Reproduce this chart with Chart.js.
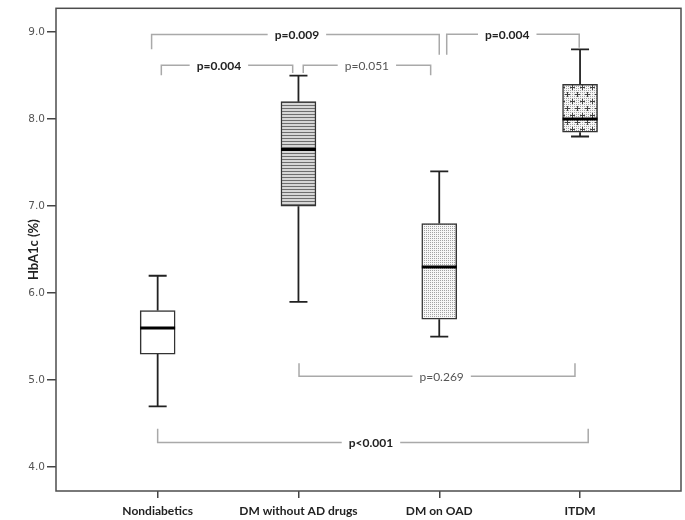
<!DOCTYPE html>
<html><head><meta charset="utf-8">
<script src="https://cdn.jsdelivr.net/npm/chart.js@4"></script>
<style>html,body{margin:0;padding:0;background:#fff}canvas{display:block}</style>
</head><body>
<canvas id="c" width="685" height="520"></canvas>
<script>
// ---- data ----
const categories = ["Nondiabetics", "DM without AD drugs", "DM on OAD", "ITDM"];
const whiskerLow  = [4.7, 5.9, 5.5, 7.8];
const q1          = [5.3, 7.0, 5.7, 7.85];
const median      = [5.6, 7.65, 6.3, 8.0];
const q3          = [5.8, 8.2, 6.8, 8.4];
const whiskerHigh = [6.2, 8.5, 7.4, 8.8];
const yTicks = [4, 5, 6, 7, 8, 9];

// p-value labels for the comparison brackets
const pLabels = ["p=0.009", "p=0.004", "p=0.051", "p=0.004", "p=0.269", "p<0.001"];
const pBold   = [true, true, false, true, false, true];

// ---- annotation geometry (category units / HbA1c units) ----
const bracketGeom = [
  {x1:-0.043, x2:2.0,   y:8.972, y1:8.803, y2:8.739, tx:0.989},
  {x1:0.026,  x2:0.959, y:8.619, y1:8.503, y2:8.530, tx:0.435},
  {x1:1.034,  x2:1.939, y:8.619, y1:8.530, y2:8.503, tx:1.486},
  {x1:2.053,  x2:2.994, y:8.974, y1:8.739, y2:8.820, tx:2.483},
  {x1:1.004,  x2:2.964, y:5.045, y1:5.195, y2:5.195, tx:2.017},
  {x1:0.0,    x2:3.058, y:4.284, y1:4.443, y2:4.443, tx:1.515}
];

// ---- fill patterns ----
function makePattern(w, h, draw) {
  const cv = document.createElement('canvas');
  cv.width = w; cv.height = h;
  const g = cv.getContext('2d');
  draw(g);
  return g.createPattern(cv, 'repeat');
}
function dotBg(g, w, h) {
  g.fillStyle = '#f6f6f6'; g.fillRect(0, 0, w, h);
  g.fillStyle = '#a2a2a2';
  for (let yy = 0; yy < h; yy += 2) for (let xx = 0; xx < w; xx += 2) g.fillRect(xx, yy, 1, 1);
}
const stripes = makePattern(4, 3, g => {
  g.fillStyle = '#d6d6d6'; g.fillRect(0, 0, 4, 3);
  g.fillStyle = '#6e6e6e'; g.fillRect(0, 0, 4, 1);
});
const dots = makePattern(2, 2, g => dotBg(g, 2, 2));
const pluses = makePattern(10, 14, g => {
  dotBg(g, 10, 14);
  g.fillStyle = '#444';
  g.fillRect(0, 3, 5, 1); g.fillRect(2, 1, 1, 5);
  g.fillRect(5, 10, 5, 1); g.fillRect(7, 8, 1, 5);
});
const boxFills = ['#ffffff', stripes, dots, pluses];

// ---- datasets built from the arrays ----
const CAP_HALF = 0.064, BOX_HALF = 0.124;
const whiskerData = [], capData = [], medianData = [];
categories.forEach((c, i) => {
  whiskerData.push({x:i, y:q3[i]}, {x:i, y:whiskerHigh[i]}, {x:i, y:null},
                   {x:i, y:q1[i]}, {x:i, y:whiskerLow[i]}, {x:i, y:null});
  capData.push({x:i - CAP_HALF, y:whiskerHigh[i]}, {x:i + CAP_HALF, y:whiskerHigh[i]}, {x:i, y:null},
               {x:i - CAP_HALF, y:whiskerLow[i]}, {x:i + CAP_HALF, y:whiskerLow[i]}, {x:i, y:null});
  medianData.push({x:i - BOX_HALF, y:median[i]}, {x:i + BOX_HALF, y:median[i]}, {x:i, y:null});
});

const lineBase = {type:'line', pointRadius:0, fill:false, tension:0, spanGaps:false, borderCapStyle:'butt'};

const framePlugin = {
  id: 'frame',
  afterDraw(chart) {
    const {ctx, chartArea:a} = chart;
    ctx.save();
    ctx.strokeStyle = '#4d4d4d'; ctx.lineWidth = 1.5;
    ctx.strokeRect(a.left, a.top, a.right - a.left, a.bottom - a.top);
    ctx.restore();
  }
};
const bracketPlugin = {
  id: 'brackets',
  afterDatasetsDraw(chart) {
    const {ctx, scales:{x, y}} = chart;
    ctx.save();
    bracketGeom.forEach((b, k) => {
      const X1 = x.getPixelForValue(b.x1), X2 = x.getPixelForValue(b.x2);
      const Y = y.getPixelForValue(b.y), Y1 = y.getPixelForValue(b.y1), Y2 = y.getPixelForValue(b.y2);
      const TX = x.getPixelForValue(b.tx);
      ctx.font = (pBold[k] ? 'bold ' : '') + '12px Lato';
      const w = ctx.measureText(pLabels[k]).width;
      ctx.strokeStyle = '#a9a9a9'; ctx.lineWidth = 1.5;
      ctx.beginPath();
      ctx.moveTo(X1, Y1); ctx.lineTo(X1, Y); ctx.lineTo(TX - w/2 - 7, Y);
      ctx.moveTo(TX + w/2 + 7, Y); ctx.lineTo(X2, Y); ctx.lineTo(X2, Y2);
      ctx.stroke();
      ctx.fillStyle = pBold[k] ? '#222' : '#555';
      ctx.textAlign = 'center'; ctx.textBaseline = 'middle';
      ctx.fillText(pLabels[k], TX, Y + 0.5);
    });
    ctx.restore();
  }
};

new Chart(document.getElementById('c'), {
  type: 'bar',
  data: {
    datasets: [
      {type:'bar', order:2, data: categories.map((c, i) => ({x:i, y:[q1[i], q3[i]]})),
       backgroundColor: boxFills, borderColor:'#333', borderWidth:1.5, borderSkipped:false, barThickness:35},
      Object.assign({}, lineBase, {order:1, data: whiskerData, borderColor:'#222', borderWidth:1.8}),
      Object.assign({}, lineBase, {order:1, data: capData, borderColor:'#222', borderWidth:1.8}),
      Object.assign({}, lineBase, {order:0, data: medianData, borderColor:'#000', borderWidth:3})
    ]
  },
  options: {
    responsive: false, animation: false, devicePixelRatio: 1,
    layout: {padding: {top:3, right:4, left:0, bottom:0}},
    plugins: {legend:{display:false}, tooltip:{enabled:false}},
    scales: {
      x: {
        type:'linear', min:-0.722, max:3.717, offset:false,
        afterBuildTicks: s => { s.ticks = categories.map((c, i) => ({value:i})); },
        afterFit: s => { s.height = 29; },
        ticks: {callback: v => categories[v], font:{family:'Lato', weight:'bold', size:12},
                color:'#222', padding:5.5, maxRotation:0, autoSkip:false},
        grid: {offset:false, drawOnChartArea:false, drawTicks:true, tickLength:7, color:'#444', lineWidth:1.5},
        border: {display:false}
      },
      y: {
        type:'linear', min:3.727, max:9.273, beginAtZero:false,
        afterBuildTicks: s => { s.ticks = yTicks.map(v => ({value:v})); },
        afterFit: s => { s.width = 56; },
        ticks: {callback: v => Number(v).toFixed(1), font:{family:'DejaVu Sans', size:10.5}, color:'#555', padding:2},
        grid: {drawOnChartArea:false, drawTicks:true, tickLength:9, color:'#444', lineWidth:1.5},
        border: {display:false},
        title: {display:true, text:'HbA1c (%)', font:{family:'Lato', weight:'bold', size:13}, color:'#222',
                padding:{top:26, bottom:0}}
      }
    }
  },
  plugins: [bracketPlugin, framePlugin]
});
</script>
</body></html>
